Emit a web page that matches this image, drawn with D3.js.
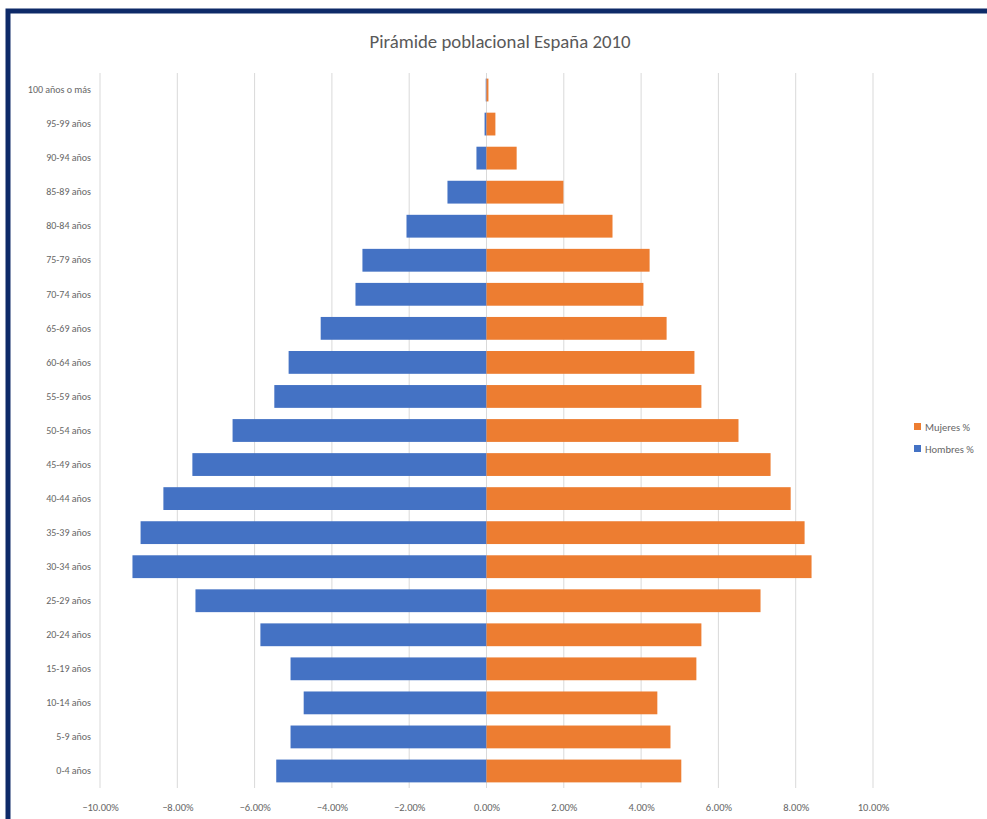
<!DOCTYPE html>
<html>
<head>
<meta charset="utf-8">
<script src="https://cdn.jsdelivr.net/npm/d3@7"></script>
<style>
  html, body { margin: 0; padding: 0; background: #ffffff; }
  svg { display: block; }
</style>
</head>
<body>
<svg id="chart" width="987" height="819"></svg>
<script>
// Age groups, top to bottom
const ageGroups = [
  "100 años o más", "95-99 años", "90-94 años", "85-89 años", "80-84 años",
  "75-79 años", "70-74 años", "65-69 años", "60-64 años", "55-59 años",
  "50-54 años", "45-49 años", "40-44 años", "35-39 años", "30-34 años",
  "25-29 años", "20-24 años", "15-19 años", "10-14 años", "5-9 años", "0-4 años"
];
// Share of population (%), men drawn to the left as negative values
const hombres = [
  -0.02, -0.05, -0.26, -1.01, -2.07,
  -3.21, -3.39, -4.29, -5.12, -5.49,
  -6.57, -7.61, -8.36, -8.95, -9.16,
  -7.53, -5.85, -5.07, -4.73, -5.07, -5.44
];
const mujeres = [
  0.05, 0.23, 0.78, 1.99, 3.26,
  4.22, 4.06, 4.66, 5.38, 5.56,
  6.52, 7.35, 7.87, 8.23, 8.41,
  7.09, 5.56, 5.43, 4.42, 4.76, 5.04
];
const xTicks = [-10, -8, -6, -4, -2, 0, 2, 4, 6, 8, 10];
const seriesNames = ["Mujeres %", "Hombres %"];
const seriesColors = ["#ED7D31", "#4472C4"];

const svg = d3.select("#chart");
const font = "Calibri, Carlito, Lato, 'Open Sans', sans-serif";

// Frame
svg.append("rect").attr("x", 8).attr("y", 11).attr("width", 990).attr("height", 820)
  .attr("fill", "#ffffff").attr("stroke", "#0e2a68").attr("stroke-width", 5);

const plot = { left: 100, right: 873, top: 73, bottom: 788 };

const x = d3.scaleLinear().domain([-10, 10]).range([plot.left, plot.right]);
const y = d3.scaleBand().domain(ageGroups).range([plot.top, plot.bottom]).paddingInner(0.33).paddingOuter(0.165);

// Title
svg.append("text")
  .attr("x", 500).attr("y", 48)
  .attr("text-anchor", "middle")
  .attr("font-family", font)
  .attr("font-size", 18.8)
  .attr("fill", "#595959")
  .text("Pirámide poblacional España 2010");

// Vertical gridlines
svg.append("g")
  .selectAll("line")
  .data(xTicks)
  .join("line")
  .attr("x1", d => x(d)).attr("x2", d => x(d))
  .attr("y1", plot.top).attr("y2", plot.bottom)
  .attr("stroke", "#d9d9d9").attr("stroke-width", 1);

// Bars
const rows = ageGroups.map((g, i) => ({ g, h: hombres[i], m: mujeres[i] }));
svg.append("g").selectAll("rect")
  .data(rows)
  .join("rect")
  .attr("x", d => x(d.h))
  .attr("y", d => y(d.g))
  .attr("width", d => x(0) - x(d.h))
  .attr("height", y.bandwidth())
  .attr("fill", seriesColors[1]);

svg.append("g").selectAll("rect")
  .data(rows)
  .join("rect")
  .attr("x", x(0))
  .attr("y", d => y(d.g))
  .attr("width", d => x(d.m) - x(0))
  .attr("height", y.bandwidth())
  .attr("fill", seriesColors[0]);

// Category axis
const yAxis = svg.append("g")
  .attr("transform", `translate(${plot.left - 9},0)`)
  .call(d3.axisLeft(y).tickSize(0).tickPadding(0));
yAxis.select(".domain").remove();
yAxis.selectAll("text")
  .attr("font-family", font).attr("font-size", 10).attr("fill", "#666666");

// Value axis
const xAxis = svg.append("g")
  .attr("transform", `translate(0,${plot.bottom})`)
  .call(d3.axisBottom(x).tickValues(xTicks).tickSize(0).tickPadding(16)
    .tickFormat(d => d3.format(".2f")(d) + "%"));
xAxis.select(".domain").remove();
xAxis.selectAll("text")
  .attr("font-family", font).attr("font-size", 10.5).attr("fill", "#666666");

// Legend
const legend = svg.append("g").attr("transform", "translate(914,427)");
seriesNames.forEach((name, i) => {
  const row = legend.append("g").attr("transform", `translate(0,${i * 22})`);
  row.append("rect").attr("x", 0).attr("y", -4).attr("width", 7).attr("height", 7)
    .attr("fill", seriesColors[i]);
  row.append("text").attr("x", 11).attr("y", 0).attr("dy", "0.35em")
    .attr("font-family", font).attr("font-size", 10.5).attr("fill", "#666666")
    .text(name);
});
</script>
</body>
</html>
